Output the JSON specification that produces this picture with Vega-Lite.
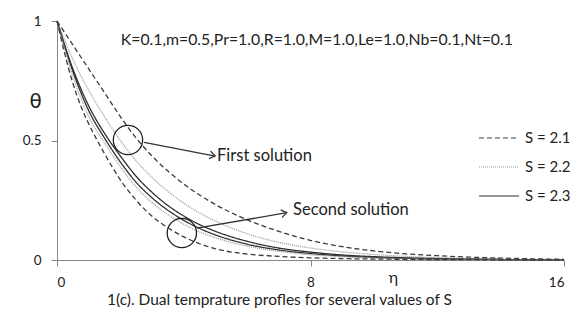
{
  "$schema": "https://vega.github.io/schema/vega-lite/v6.json",
  "width": 507,
  "height": 239,
  "autosize": {"type": "none"},
  "padding": {"left": 57, "top": 21, "right": 15, "bottom": 71},
  "background": "white",
  "title": {
    "text": "1(c). Dual  temprature profles for  several values of S",
    "orient": "bottom",
    "anchor": "middle",
    "dx": -31,
    "offset": 4,
    "fontSize": 15.5,
    "fontWeight": "normal",
    "font": "Lato",
    "color": "#222222"
  },
  "config": {
    "view": {"stroke": null},
    "font": "Lato",
    "axis": {
      "grid": false,
      "domainColor": "#868686",
      "tickColor": "#868686",
      "tickSize": 6,
      "labelFontSize": 13.5,
      "labelColor": "#222222",
      "labelFont": "Lato"
    }
  },
  "datasets": {
    "profiles": [
      {"S": "S = 2.1", "sol": "first", "eta": 0, "theta": 1},
      {"S": "S = 2.1", "sol": "first", "eta": 0.5, "theta": 0.9},
      {"S": "S = 2.1", "sol": "first", "eta": 1, "theta": 0.8},
      {"S": "S = 2.1", "sol": "first", "eta": 1.5, "theta": 0.7},
      {"S": "S = 2.1", "sol": "first", "eta": 2, "theta": 0.6},
      {"S": "S = 2.1", "sol": "first", "eta": 2.5, "theta": 0.51},
      {"S": "S = 2.1", "sol": "first", "eta": 3, "theta": 0.435},
      {"S": "S = 2.1", "sol": "first", "eta": 3.5, "theta": 0.372},
      {"S": "S = 2.1", "sol": "first", "eta": 4, "theta": 0.318},
      {"S": "S = 2.1", "sol": "first", "eta": 4.5, "theta": 0.272},
      {"S": "S = 2.1", "sol": "first", "eta": 5, "theta": 0.232},
      {"S": "S = 2.1", "sol": "first", "eta": 5.5, "theta": 0.198},
      {"S": "S = 2.1", "sol": "first", "eta": 6, "theta": 0.168},
      {"S": "S = 2.1", "sol": "first", "eta": 7, "theta": 0.12},
      {"S": "S = 2.1", "sol": "first", "eta": 8, "theta": 0.082},
      {"S": "S = 2.1", "sol": "first", "eta": 9, "theta": 0.056},
      {"S": "S = 2.1", "sol": "first", "eta": 10, "theta": 0.038},
      {"S": "S = 2.1", "sol": "first", "eta": 11, "theta": 0.026},
      {"S": "S = 2.1", "sol": "first", "eta": 12, "theta": 0.018},
      {"S": "S = 2.1", "sol": "first", "eta": 13, "theta": 0.012},
      {"S": "S = 2.1", "sol": "first", "eta": 14, "theta": 0.008},
      {"S": "S = 2.1", "sol": "first", "eta": 15, "theta": 0.005},
      {"S": "S = 2.1", "sol": "first", "eta": 16, "theta": 0.003},

      {"S": "S = 2.2", "sol": "first", "eta": 0, "theta": 1},
      {"S": "S = 2.2", "sol": "first", "eta": 0.5, "theta": 0.84},
      {"S": "S = 2.2", "sol": "first", "eta": 1, "theta": 0.71},
      {"S": "S = 2.2", "sol": "first", "eta": 1.5, "theta": 0.6},
      {"S": "S = 2.2", "sol": "first", "eta": 2, "theta": 0.5},
      {"S": "S = 2.2", "sol": "first", "eta": 2.5, "theta": 0.415},
      {"S": "S = 2.2", "sol": "first", "eta": 3, "theta": 0.345},
      {"S": "S = 2.2", "sol": "first", "eta": 3.5, "theta": 0.287},
      {"S": "S = 2.2", "sol": "first", "eta": 4, "theta": 0.238},
      {"S": "S = 2.2", "sol": "first", "eta": 4.5, "theta": 0.197},
      {"S": "S = 2.2", "sol": "first", "eta": 5, "theta": 0.163},
      {"S": "S = 2.2", "sol": "first", "eta": 6, "theta": 0.11},
      {"S": "S = 2.2", "sol": "first", "eta": 7, "theta": 0.074},
      {"S": "S = 2.2", "sol": "first", "eta": 8, "theta": 0.05},
      {"S": "S = 2.2", "sol": "first", "eta": 9, "theta": 0.034},
      {"S": "S = 2.2", "sol": "first", "eta": 10, "theta": 0.023},
      {"S": "S = 2.2", "sol": "first", "eta": 11, "theta": 0.015},
      {"S": "S = 2.2", "sol": "first", "eta": 12, "theta": 0.01},
      {"S": "S = 2.2", "sol": "first", "eta": 14, "theta": 0.004},
      {"S": "S = 2.2", "sol": "first", "eta": 16, "theta": 0.001},

      {"S": "S = 2.3", "sol": "first", "eta": 0, "theta": 1},
      {"S": "S = 2.3", "sol": "first", "eta": 0.5, "theta": 0.8},
      {"S": "S = 2.3", "sol": "first", "eta": 1, "theta": 0.645},
      {"S": "S = 2.3", "sol": "first", "eta": 1.5, "theta": 0.53},
      {"S": "S = 2.3", "sol": "first", "eta": 2, "theta": 0.435},
      {"S": "S = 2.3", "sol": "first", "eta": 2.5, "theta": 0.35},
      {"S": "S = 2.3", "sol": "first", "eta": 3, "theta": 0.283},
      {"S": "S = 2.3", "sol": "first", "eta": 3.5, "theta": 0.228},
      {"S": "S = 2.3", "sol": "first", "eta": 4, "theta": 0.184},
      {"S": "S = 2.3", "sol": "first", "eta": 4.5, "theta": 0.148},
      {"S": "S = 2.3", "sol": "first", "eta": 5, "theta": 0.12},
      {"S": "S = 2.3", "sol": "first", "eta": 6, "theta": 0.078},
      {"S": "S = 2.3", "sol": "first", "eta": 7, "theta": 0.05},
      {"S": "S = 2.3", "sol": "first", "eta": 8, "theta": 0.033},
      {"S": "S = 2.3", "sol": "first", "eta": 9, "theta": 0.021},
      {"S": "S = 2.3", "sol": "first", "eta": 10, "theta": 0.014},
      {"S": "S = 2.3", "sol": "first", "eta": 11, "theta": 0.009},
      {"S": "S = 2.3", "sol": "first", "eta": 12, "theta": 0.006},
      {"S": "S = 2.3", "sol": "first", "eta": 14, "theta": 0.002},
      {"S": "S = 2.3", "sol": "first", "eta": 16, "theta": 0},

      {"S": "S = 2.3", "sol": "second", "eta": 0, "theta": 1},
      {"S": "S = 2.3", "sol": "second", "eta": 0.5, "theta": 0.79},
      {"S": "S = 2.3", "sol": "second", "eta": 1, "theta": 0.625},
      {"S": "S = 2.3", "sol": "second", "eta": 1.5, "theta": 0.51},
      {"S": "S = 2.3", "sol": "second", "eta": 2, "theta": 0.41},
      {"S": "S = 2.3", "sol": "second", "eta": 2.5, "theta": 0.325},
      {"S": "S = 2.3", "sol": "second", "eta": 3, "theta": 0.26},
      {"S": "S = 2.3", "sol": "second", "eta": 3.5, "theta": 0.208},
      {"S": "S = 2.3", "sol": "second", "eta": 4, "theta": 0.166},
      {"S": "S = 2.3", "sol": "second", "eta": 4.5, "theta": 0.132},
      {"S": "S = 2.3", "sol": "second", "eta": 5, "theta": 0.105},
      {"S": "S = 2.3", "sol": "second", "eta": 6, "theta": 0.066},
      {"S": "S = 2.3", "sol": "second", "eta": 7, "theta": 0.042},
      {"S": "S = 2.3", "sol": "second", "eta": 8, "theta": 0.027},
      {"S": "S = 2.3", "sol": "second", "eta": 9, "theta": 0.017},
      {"S": "S = 2.3", "sol": "second", "eta": 10, "theta": 0.011},
      {"S": "S = 2.3", "sol": "second", "eta": 11, "theta": 0.007},
      {"S": "S = 2.3", "sol": "second", "eta": 12, "theta": 0.004},
      {"S": "S = 2.3", "sol": "second", "eta": 14, "theta": 0.002},
      {"S": "S = 2.3", "sol": "second", "eta": 16, "theta": 0},

      {"S": "S = 2.2", "sol": "second", "eta": 0, "theta": 1},
      {"S": "S = 2.2", "sol": "second", "eta": 0.5, "theta": 0.77},
      {"S": "S = 2.2", "sol": "second", "eta": 1, "theta": 0.6},
      {"S": "S = 2.2", "sol": "second", "eta": 1.5, "theta": 0.49},
      {"S": "S = 2.2", "sol": "second", "eta": 2, "theta": 0.39},
      {"S": "S = 2.2", "sol": "second", "eta": 2.5, "theta": 0.305},
      {"S": "S = 2.2", "sol": "second", "eta": 3, "theta": 0.24},
      {"S": "S = 2.2", "sol": "second", "eta": 3.5, "theta": 0.19},
      {"S": "S = 2.2", "sol": "second", "eta": 4, "theta": 0.15},
      {"S": "S = 2.2", "sol": "second", "eta": 4.5, "theta": 0.118},
      {"S": "S = 2.2", "sol": "second", "eta": 5, "theta": 0.093},
      {"S": "S = 2.2", "sol": "second", "eta": 6, "theta": 0.058},
      {"S": "S = 2.2", "sol": "second", "eta": 7, "theta": 0.036},
      {"S": "S = 2.2", "sol": "second", "eta": 8, "theta": 0.022},
      {"S": "S = 2.2", "sol": "second", "eta": 9, "theta": 0.014},
      {"S": "S = 2.2", "sol": "second", "eta": 10, "theta": 0.009},
      {"S": "S = 2.2", "sol": "second", "eta": 11, "theta": 0.005},
      {"S": "S = 2.2", "sol": "second", "eta": 12, "theta": 0.003},
      {"S": "S = 2.2", "sol": "second", "eta": 14, "theta": 0.001},
      {"S": "S = 2.2", "sol": "second", "eta": 16, "theta": 0},

      {"S": "S = 2.1", "sol": "second", "eta": 0, "theta": 1},
      {"S": "S = 2.1", "sol": "second", "eta": 0.25, "theta": 0.86},
      {"S": "S = 2.1", "sol": "second", "eta": 0.5, "theta": 0.74},
      {"S": "S = 2.1", "sol": "second", "eta": 0.75, "theta": 0.645},
      {"S": "S = 2.1", "sol": "second", "eta": 1, "theta": 0.57},
      {"S": "S = 2.1", "sol": "second", "eta": 1.25, "theta": 0.505},
      {"S": "S = 2.1", "sol": "second", "eta": 1.5, "theta": 0.445},
      {"S": "S = 2.1", "sol": "second", "eta": 2, "theta": 0.335},
      {"S": "S = 2.1", "sol": "second", "eta": 2.5, "theta": 0.25},
      {"S": "S = 2.1", "sol": "second", "eta": 3, "theta": 0.183},
      {"S": "S = 2.1", "sol": "second", "eta": 3.5, "theta": 0.135},
      {"S": "S = 2.1", "sol": "second", "eta": 4, "theta": 0.097},
      {"S": "S = 2.1", "sol": "second", "eta": 4.5, "theta": 0.068},
      {"S": "S = 2.1", "sol": "second", "eta": 5, "theta": 0.047},
      {"S": "S = 2.1", "sol": "second", "eta": 6, "theta": 0.025},
      {"S": "S = 2.1", "sol": "second", "eta": 7, "theta": 0.015},
      {"S": "S = 2.1", "sol": "second", "eta": 8, "theta": 0.009},
      {"S": "S = 2.1", "sol": "second", "eta": 9, "theta": 0.006},
      {"S": "S = 2.1", "sol": "second", "eta": 10, "theta": 0.004},
      {"S": "S = 2.1", "sol": "second", "eta": 12, "theta": 0.002},
      {"S": "S = 2.1", "sol": "second", "eta": 16, "theta": 0}
    ],
    "rings": [
      {"label": "First solution", "eta": 2.24, "theta": 0.502},
      {"label": "Second solution", "eta": 3.94, "theta": 0.113}
    ],
    "arrows": [
      {"label": "First solution", "eta": 2.75, "theta": 0.492, "eta2": 4.99, "theta2": 0.435},
      {"label": "Second solution", "eta": 4.41, "theta": 0.133, "eta2": 7.25, "theta2": 0.198}
    ],
    "notes": [
      {"text": "First solution", "eta": 5.05, "theta": 0.437},
      {"text": "Second solution", "eta": 7.45, "theta": 0.21}
    ],
    "params": [
      {"text": "K=0.1,m=0.5,Pr=1.0,R=1.0,M=1.0,Le=1.0,Nb=0.1,Nt=0.1", "eta": 8.2, "theta": 0.92}
    ]
  },
  "layer": [
    {
      "data": {"name": "profiles"},
      "mark": {"type": "line", "interpolate": "monotone", "strokeWidth": 1.3},
      "encoding": {
        "x": {
          "field": "eta", "type": "quantitative",
          "scale": {"domain": [0, 16], "nice": false},
          "axis": {
            "values": [0, 8, 16],
            "labelPadding": 9,
            "title": "η",
            "titleFontSize": 16,
            "titleFontWeight": "normal",
            "titleColor": "#222222",
            "titleX": 336,
            "titleY": 17,
            "titleAlign": "center",
            "titleBaseline": "middle"
          }
        },
        "y": {
          "field": "theta", "type": "quantitative",
          "scale": {"domain": [0, 1], "nice": false},
          "axis": {
            "values": [0, 0.5, 1],
            "labelExpr": "'' + datum.value",
            "labelPadding": 10,
            "title": "θ",
            "titleFont": "DejaVu Sans",
            "titleFontSize": 20,
            "titleFontWeight": "normal",
            "titleColor": "#222222",
            "titleAngle": 0,
            "titleX": -22,
            "titleY": 80,
            "titleAlign": "center",
            "titleBaseline": "middle"
          }
        },
        "detail": {"field": "sol"},
        "strokeDash": {
          "field": "S", "type": "nominal",
          "scale": {"domain": ["S = 2.1", "S = 2.2", "S = 2.3"], "range": [[5, 3], [1, 1], [1, 0]]},
          "legend": {
            "title": null,
            "orient": "none",
            "legendX": 421,
            "legendY": 96,
            "symbolType": "stroke",
            "symbolSize": 1600,
            "symbolStrokeWidth": 1.2,
            "labelFontSize": 15,
            "labelColor": "#222222",
            "labelOffset": 5,
            "rowPadding": 0
          }
        },
        "color": {
          "field": "S", "type": "nominal",
          "scale": {"domain": ["S = 2.1", "S = 2.2", "S = 2.3"], "range": ["#3a3a3a", "#9a9a9a", "#2e2e2e"]}
        }
      }
    },
    {
      "data": {"name": "rings"},
      "mark": {"type": "point", "shape": "circle", "filled": false, "size": 860, "stroke": "#1e1e28", "strokeWidth": 1.3, "opacity": 1},
      "encoding": {
        "x": {"field": "eta", "type": "quantitative"},
        "y": {"field": "theta", "type": "quantitative"}
      }
    },
    {
      "data": {"name": "arrows"},
      "mark": {"type": "rule", "color": "#333333", "strokeWidth": 1.3},
      "encoding": {
        "x": {"field": "eta", "type": "quantitative"},
        "y": {"field": "theta", "type": "quantitative"},
        "x2": {"field": "eta2"},
        "y2": {"field": "theta2"}
      }
    },
    {
      "data": {"name": "arrows"},
      "transform": [{"filter": "datum.label == 'First solution'"}],
      "mark": {"type": "point", "shape": "M-1,-0.7L0,0L-1,0.7", "filled": false, "size": 120, "stroke": "#333333", "strokeWidth": 1.3, "opacity": 1, "angle": 12},
      "encoding": {
        "x": {"field": "eta2", "type": "quantitative"},
        "y": {"field": "theta2", "type": "quantitative"}
      }
    },
    {
      "data": {"name": "arrows"},
      "transform": [{"filter": "datum.label == 'Second solution'"}],
      "mark": {"type": "point", "shape": "M-1,-0.7L0,0L-1,0.7", "filled": false, "size": 120, "stroke": "#333333", "strokeWidth": 1.3, "opacity": 1, "angle": 350},
      "encoding": {
        "x": {"field": "eta2", "type": "quantitative"},
        "y": {"field": "theta2", "type": "quantitative"}
      }
    },
    {
      "data": {"name": "notes"},
      "mark": {"type": "text", "align": "left", "baseline": "middle", "fontSize": 16.5, "color": "#222222"},
      "encoding": {
        "x": {"field": "eta", "type": "quantitative"},
        "y": {"field": "theta", "type": "quantitative"},
        "text": {"field": "text"}
      }
    },
    {
      "data": {"name": "params"},
      "mark": {"type": "text", "align": "center", "baseline": "middle", "fontSize": 15.8, "color": "#222222"},
      "encoding": {
        "x": {"field": "eta", "type": "quantitative"},
        "y": {"field": "theta", "type": "quantitative"},
        "text": {"field": "text"}
      }
    }
  ]
}
